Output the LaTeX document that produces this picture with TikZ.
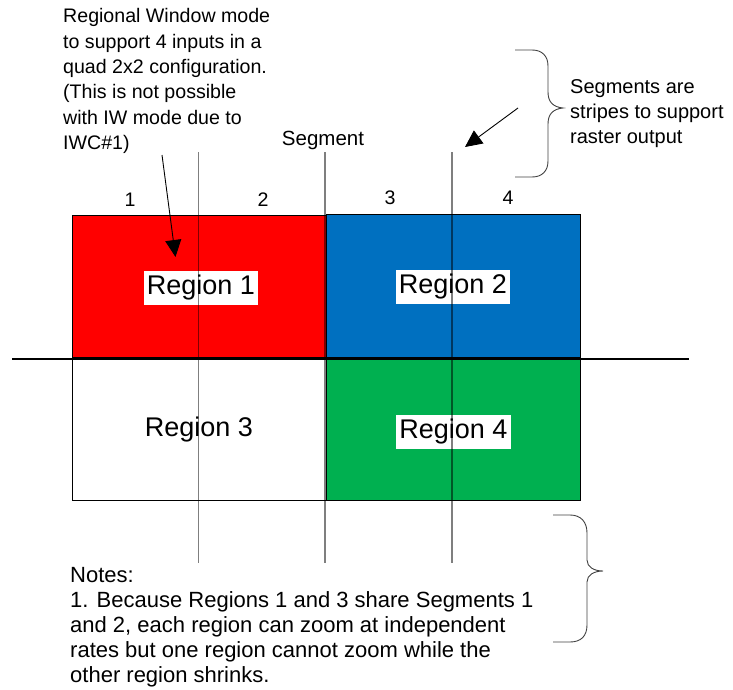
\documentclass[tikz,border=0pt]{standalone}
\usepackage{fontspec}
\setmainfont{Liberation Sans}
\usetikzlibrary{arrows.meta}
\definecolor{rred}{HTML}{FF0000}
\definecolor{rblue}{HTML}{0070C0}
\definecolor{rgreen}{HTML}{00B050}
\tikzset{
  txt/.style={font=\fontsize{19.6}{25.3}\selectfont, inner sep=0pt, align=left},
  region/.style={draw=black, line width=0.8pt},
  rlabel/.style={fill=white, font=\fontsize{27}{30}\selectfont, inner xsep=3pt, inner ysep=0pt, minimum height=34pt},
  seg/.style={draw=black, draw opacity=0.5, line width=1.8pt},
  pointer/.style={draw=black, line width=0.9pt, -{Triangle[length=17pt,width=16pt]}},
  bracepath/.style={draw=black!75, line width=0.9pt}
}
\begin{document}
\begin{tikzpicture}[x=1pt,y=-1pt]
\useasboundingbox (0,0) rectangle (733,690);
% regions
\path[region, fill=rred] (72,215) rectangle (326,357);
\path[region, fill=rblue] (326,214) rectangle (580,357);
\path[region, fill=white] (72,357) rectangle (326,500);
\path[region, fill=rgreen] (326,357) rectangle (580,500);
% horizontal line
\coordinate (hl) at (12,358.5);
\coordinate (hr) at (689,358.5);
\draw[line width=2pt] (hl) -- (hr);
% region labels
\node[rlabel] (r1) at (201,288) {Region 1};
\node[rlabel] (r2) at (453,286.5) {Region 2};
\node[rlabel] (r3) at (199,429.5) {Region 3};
\node[rlabel] (r4) at (453.5,431.5) {Region 4};
% segment lines
\coordinate (s1t) at (198.5,152); \coordinate (s1b) at (198.5,563);
\coordinate (s2t) at (325,152); \coordinate (s2b) at (325,563);
\coordinate (s3t) at (452,152); \coordinate (s3b) at (452,563);
\draw[seg] (s1t) -- (s1b);
\draw[seg] (s2t) -- (s2b);
\draw[seg] (s3t) -- (s3b);
% segment numbers
\node[txt, anchor=base] (n1) at (130,206) {1};
\node[txt, anchor=base] (n2) at (263,206) {2};
\node[txt, anchor=base] (n3) at (390,204) {3};
\node[txt, anchor=base] (n4) at (508,204) {4};
\node[txt, anchor=base, font=\fontsize{20.5}{25}\selectfont] (segl) at (323,145) {Segment};
% texts
\node[txt, anchor=north west] (topnote) at (63,8.5) {Regional Window mode\\to support 4 inputs in a\\quad 2x2 configuration.\\(This is not possible\\with IW mode due to\\IWC\#1)};
\node[txt, anchor=north west, font=\fontsize{20}{25}\selectfont] (segnote) at (570,79.5) {Segments are\\stripes to support\\raster output};
\node[txt, anchor=north west, font=\fontsize{22}{25}\selectfont] (notes) at (70,567.5) {Notes:\\1. Because Regions 1 and 3 share Segments 1\\and 2, each region can zoom at independent\\rates but one region cannot zoom while the\\other region shrinks.};
% arrows
\coordinate (a1s) at (162,155); \coordinate (a1e) at (175.5,257);
\draw[pointer] (a1s) -- (a1e);
\coordinate (a2s) at (518,108); \coordinate (a2e) at (465,147);
\draw[pointer] (a2s) -- (a2e);
% braces
\draw[bracepath] (515,50) -- (532,50) .. controls (542,50) and (548,56) .. (548,66) -- (548,92) .. controls (548,102) and (553,107) .. (563,108) .. controls (553,109) and (548,114) .. (548,124) -- (548,161) .. controls (548,171) and (542,177) .. (532,177) -- (515,177);
\draw[bracepath] (553,515) -- (570,515) .. controls (581,515) and (587,522) .. (587,533) -- (587,560) .. controls (587,567) and (594,571) .. (603,571) .. controls (594,571) and (587,575) .. (587,582) -- (587,625) .. controls (587,636) and (581,642) .. (570,642) -- (553,642);
\end{tikzpicture}
\end{document}
